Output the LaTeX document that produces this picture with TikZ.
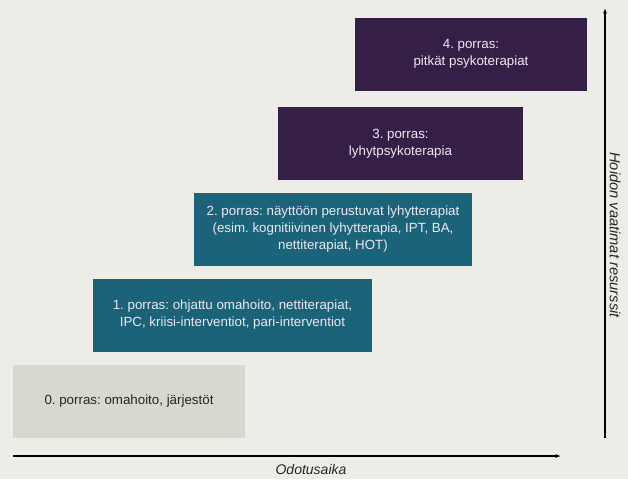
\documentclass[tikz,border=0pt]{standalone}
\usepackage{fontspec}
\setmainfont{Liberation Sans}
\usepackage{tikz}
\usetikzlibrary{arrows.meta}
\frenchspacing

\definecolor{taustaVari}{RGB}{237,237,232}
\definecolor{violetti}{RGB}{54,31,71}
\definecolor{petrooli}{RGB}{27,99,120}
\definecolor{harmaa}{RGB}{216,216,208}
\definecolor{vaalea}{RGB}{236,233,240}

\tikzset{
  porras/.style={rectangle, inner sep=0pt, align=center, minimum height=54.75pt,
    font=\fontsize{10}{12.75}\selectfont},
  akseli/.style={line width=0.8pt, -{Latex[length=4pt,width=3pt]}},
  akselinimi/.style={font=\fontsize{10.5}{12}\selectfont\itshape, text=black!85}
}

\begin{document}
\begin{tikzpicture}[x=0.75pt,y=0.75pt,yscale=-1,xscale=1]
\useasboundingbox (0,0) rectangle (628,479);
\fill [taustaVari] (0,0) rectangle (628,479);

% Portaat
\node [porras, fill=violetti, text=vaalea, minimum width=174pt] (p4) at (471,54)
  {4. porras:\\pitkät psykoterapiat};
\node [porras, fill=violetti, text=vaalea, minimum width=183.75pt] (p3) at (400.5,143.5)
  {3. porras:\\lyhytpsykoterapia};
\node [porras, fill=petrooli, text=vaalea, minimum width=208.5pt] (p2) at (333,229.5)
  {2. porras: näyttöön perustuvat lyhytterapiat\\(esim. kognitiivinen lyhytterapia, IPT, BA,\\nettiterapiat, HOT)};
\node [porras, fill=petrooli, text=vaalea, minimum width=209.25pt] (p1) at (232.5,315)
  {1. porras: ohjattu omahoito, nettiterapiat,\\IPC, kriisi-interventiot, pari-interventiot};
\node [porras, fill=harmaa, text=black!85, minimum width=174pt] (p0) at (129,401.5)
  {0. porras: omahoito, järjestöt};

% Akselit
\coordinate (xalku) at (13,456);
\coordinate (xloppu) at (561,456);
\coordinate (yalku) at (605,438);
\coordinate (yloppu) at (605,8);
\draw [akseli] (xalku) -- (xloppu);
\draw [akseli] (yalku) -- (yloppu);

% Akselien nimet
\node [akselinimi] (xnimi) at (311,469) {Odotusaika};
\node [akselinimi, font=\fontsize{11}{12}\selectfont\itshape, rotate=-90] (ynimi) at (615,235) {Hoidon vaatimat resurssit};

\end{tikzpicture}
\end{document}
